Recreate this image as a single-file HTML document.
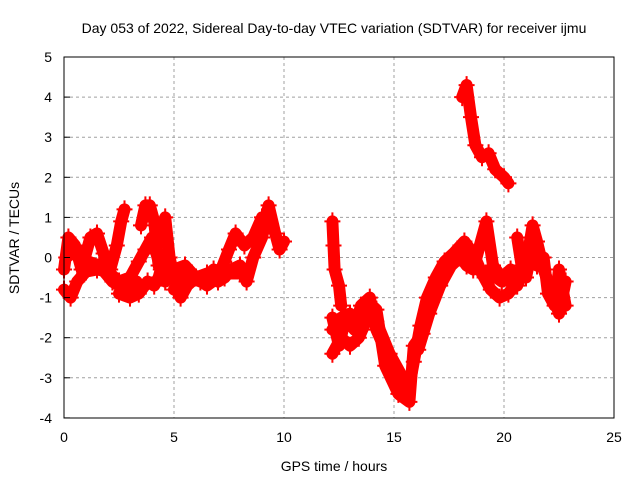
<!DOCTYPE html>
<html><head><meta charset="utf-8"><style>
body{margin:0;background:#fff}
svg text{font-family:"Liberation Sans",sans-serif;font-size:14px;fill:#000}
</style></head><body>
<svg id="c" width="640" height="480" xmlns="http://www.w3.org/2000/svg">
<rect x="0" y="0" width="640" height="480" fill="#fff"/>
<g id="grid"></g>
<g id="marks"></g>
<rect x="64" y="57" width="550" height="361" fill="none" stroke="#000" stroke-width="1"/>
<g id="ticks"></g>
<text x="334" y="33" text-anchor="middle">Day 053 of 2022, Sidereal Day-to-day VTEC variation (SDTVAR) for receiver ijmu</text>
<text x="334" y="471" text-anchor="middle">GPS time / hours</text>
<text x="19" y="238" text-anchor="middle" transform="rotate(-90 19 238)">SDTVAR / TECUs</text>
</svg>
<script>
const xTicks=[0,5,10,15,20,25];
const yTicks=[-4,-3,-2,-1,0,1,2,3,4,5];
const track1=[[0,-0.3],[0.2,0.5],[0.5,0.3],[0.8,-0.3],[1.2,0.5],[1.5,0.6],[1.8,0.1],[2.1,-0.3],[2.4,0.3],[2.6,0.9],[2.75,1.2]];
const track2=[[0,-0.8],[0.3,-1.0],[0.6,-0.6],[1,-0.35],[1.5,-0.3],[2,-0.35],[2.5,-0.6],[3,-0.5],[3.4,-0.1],[3.7,0.2],[4,0.5],[4.2,0.1],[4.4,-0.3]];
const track3=[[2.5,-0.9],[3,-1.0],[3.4,-0.9],[3.8,-0.6],[4.1,-0.7],[4.3,-0.5],[4.5,-0.1]];
const track4=[[3.5,0.8],[3.7,1.3],[3.9,1.3],[4.1,0.9],[4.3,-0.2]];
const track5=[[4.6,1.0],[4.8,0],[5,-0.5],[5.3,-1.0],[5.6,-0.7],[6,-0.5],[6.5,-0.4],[7,-0.6],[7.3,-0.5],[7.6,-0.3],[8,-0.2],[8.3,-0.6],[8.6,0],[9,0.5],[9.3,1.3],[9.6,0.6],[9.8,0.2],[10,0.4]];
const track6=[[4.6,-0.6],[5,-0.3],[5.5,-0.2],[6,-0.5],[6.5,-0.7],[7,-0.5],[7.5,0.2],[7.8,0.6],[8.2,0.3],[8.6,0.5],[9,1.0],[9.3,0.9]];
const track7=[[12.2,-1.5],[12.5,-2.2],[12.8,-1.5],[13.2,-1.8],[13.5,-1.2],[13.9,-1.0],[14.2,-1.8],[14.6,-2.3],[15,-2.9],[15.3,-3.2],[15.6,-3.5],[15.9,-2.6],[16.2,-1.7],[16.5,-1.0],[16.9,-0.5],[17.3,-0.1],[17.7,0.1],[18.2,0.4],[18.6,0.1],[19,-0.4],[19.4,-0.8],[19.8,-1.0],[20.2,-0.9],[20.6,-0.6],[21,-0.3]];
const track8=[[12.2,-1.8],[12.6,-1.5],[13,-1.4],[13.4,-1.8],[13.8,-1.1],[14.2,-1.3],[14.6,-2.7],[15.2,-3.4],[15.7,-3.6],[15.9,-2.2],[16.3,-1.9],[16.8,-0.9],[17.2,-0.5],[17.5,-0.2],[17.9,0.1],[18.3,-0.2],[18.6,-0.3],[18.9,0.3],[19.2,0.9],[19.5,-0.2],[19.9,-0.5],[20.3,-0.3],[20.6,-0.7],[21,-0.2],[21.3,0.8],[21.5,0.4],[21.8,-0.3],[22.2,-0.9],[22.5,-1.4],[22.8,-0.6]];
const track9=[[12.2,0.9],[12.25,0.3],[12.3,-0.3],[12.5,-0.7],[12.6,-1.2]];
const track10=[[18.1,4.0],[18.3,4.3],[18.5,3.5],[18.7,2.8],[19,2.5],[19.3,2.6],[19.6,2.2],[20,2.0],[20.2,1.85]];
const track11=[[20.6,0.5],[20.8,-0.2],[21,-0.5],[21.3,0.3],[21.5,-0.2],[21.8,0],[22,-0.9],[22.3,-1.2],[22.5,-0.3],[22.8,-1.2]];
const track12=[[12.2,-2.4],[12.6,-2.0],[13,-2.2],[13.4,-2.0],[13.8,-1.5],[14.2,-1.6],[14.8,-2.4],[15.4,-3.0]];
const track13=[[0.1,0],[0.6,0.2],[1.1,-0.1],[1.6,-0.2],[2.2,-0.6],[2.8,-0.8],[3.3,-0.6]];
const track14=[[5,-0.8],[5.6,-0.4],[6.2,-0.6],[6.8,-0.3],[7.4,-0.4],[8,-0.4]];
const track15=[[16.1,-2.3],[16.6,-1.4],[17.1,-0.7],[17.6,-0.2],[18.2,0.1],[18.8,-0.3],[19.4,-0.4],[19.9,-0.6],[20.4,-0.5]];
const tracks=[track1,track2,track3,track4,track5,track6,track7,track8,track9,track10,track11,track12,track13,track14,track15];

const X=h=>64+h*22;
const Y=v=>257.5-v*40.1;
const NS='http://www.w3.org/2000/svg';
const grid=document.getElementById('grid'),ticks=document.getElementById('ticks'),marks=document.getElementById('marks');
function mk(tag,attrs,parent){const e=document.createElementNS(NS,tag);for(const k in attrs)e.setAttribute(k,attrs[k]);parent.appendChild(e);return e;}
xTicks.forEach(t=>{
  const x=X(t);
  if(t>0&&t<25){const g=mk('line',{x1:x,y1:57,x2:x,y2:418,stroke:'#a0a0a0','stroke-dasharray':'3,3'},grid);
  
  }
  const l=mk('text',{x:x,y:442,'text-anchor':'middle'},ticks);l.textContent=t;
  
  
});
yTicks.forEach(t=>{
  const y=Y(t);
  if(t>-4&&t<5){const g=mk('line',{x1:64,y1:y,x2:614,y2:y,stroke:'#a0a0a0','stroke-dasharray':'3,3'},grid);
  
  }
  mk('line',{x1:64,y1:y,x2:70,y2:y,stroke:'#000'},ticks);
  const l=mk('text',{x:52,y:y+5,'text-anchor':'end'},ticks);l.textContent=t;
  
  
});
tracks.forEach(tr=>{
  const p=mk('polyline',{points:tr.map(d=>X(d[0])+','+Y(d[1])).join(' '),fill:'none',stroke:'#f00','stroke-width':12,'stroke-linejoin':'round','stroke-linecap':'round'},marks);
  
  
  tr.forEach(d=>{
    const x=X(d[0]),y=Y(d[1]);
    const m=mk('path',{d:`M${x-8},${y}h16M${x},${y-9}v18`,stroke:'#f00','stroke-width':2},marks);
    
    
  });
});
</script>
</body></html>
